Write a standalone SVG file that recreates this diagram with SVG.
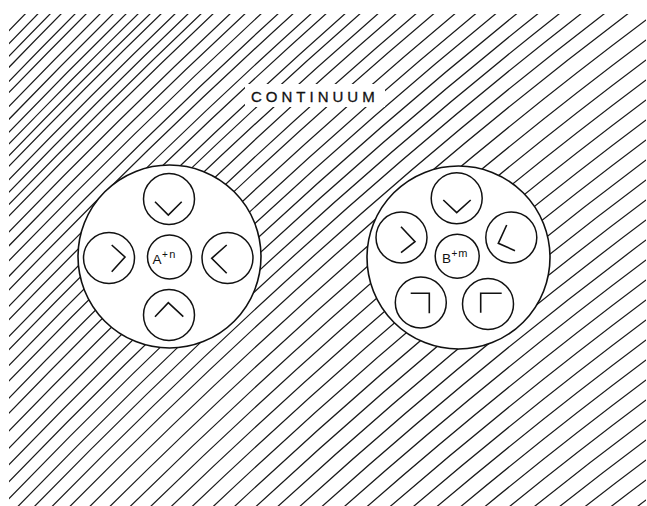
<svg xmlns="http://www.w3.org/2000/svg" width="647" height="506" viewBox="0 0 647 506">
<style>
.hl{fill:none;stroke:#1a1a1a;stroke-width:1.25}
.big{fill:#fff;stroke:#111;stroke-width:1.6}
.sm{fill:#fff;stroke:#111;stroke-width:1.5}
.sym{fill:none;stroke:#111;stroke-width:1.6;stroke-linejoin:miter}
.t{font-family:"Liberation Sans","DejaVu Sans",sans-serif;fill:#111}
</style>
<defs>
<clipPath id="area"><rect x="9" y="14" width="637" height="492"/></clipPath>
<path id="h" d="M0,0 Q325,-338 650,-580.9"/>
</defs>
<rect width="647" height="506" fill="#fff"/>
<g id="hatch" class="hl" clip-path="url(#area)">
<use href="#h" y="40"/><use href="#h" y="53"/><use href="#h" y="65.5"/><use href="#h" y="76.6"/><use href="#h" y="90.7"/><use href="#h" y="101.8"/><use href="#h" y="115.7"/><use href="#h" y="128.6"/><use href="#h" y="141.4"/><use href="#h" y="153.2"/><use href="#h" y="164.9"/><use href="#h" y="175.5"/><use href="#h" y="189"/><use href="#h" y="201.5"/><use href="#h" y="213.8"/><use href="#h" y="225.2"/><use href="#h" y="241.2"/><use href="#h" y="255.1"/><use href="#h" y="270"/><use href="#h" y="285.6"/><use href="#h" y="299.2"/><use href="#h" y="315.5"/><use href="#h" y="328.9"/><use href="#h" y="345.8"/><use href="#h" y="359"/><use href="#h" y="374.7"/><use href="#h" y="390.3"/><use href="#h" y="407.4"/><use href="#h" y="422.5"/><use href="#h" y="440.3"/><use href="#h" y="457.5"/><use href="#h" y="474"/><use href="#h" y="491"/><use href="#h" y="508"/><use href="#h" y="525"/><use href="#h" y="542"/><use href="#h" y="560"/><use href="#h" y="578"/><use href="#h" y="598"/><use href="#h" y="618"/><use href="#h" y="638"/><use href="#h" y="658"/><use href="#h" y="678"/><use href="#h" y="698"/><use href="#h" y="718"/><use href="#h" y="738"/><use href="#h" y="758"/><use href="#h" y="778"/><use href="#h" y="798"/><use href="#h" y="818"/><use href="#h" y="838"/><use href="#h" y="858"/><use href="#h" y="878"/><use href="#h" y="898"/><use href="#h" y="918"/><use href="#h" y="938"/><use href="#h" y="958"/><use href="#h" y="978"/><use href="#h" y="998"/><use href="#h" y="1018"/><use href="#h" y="1038"/><use href="#h" y="1058"/><use href="#h" y="1078"/><use href="#h" y="1098"/>
</g>
<g id="continuum">
<rect x="245" y="84" width="140" height="23" fill="#fff"/>
<text class="t" x="251" y="102" font-size="15" letter-spacing="4" stroke="#111" stroke-width="0.3">CONTINUUM</text>
</g>
<g id="node-A">
<circle class="big" cx="169.5" cy="256.5" r="91.5"/>
<g id="A-top"><circle class="sm" cx="169" cy="199" r="25.5"/><path class="sym" d="M155,201.7 L168.3,215 L181.7,201.7"/></g>
<g id="A-left"><circle class="sm" cx="109" cy="258" r="25.5"/><path class="sym" d="M111.7,245 L125,257 L111.7,271.7"/></g>
<g id="A-right"><circle class="sm" cx="227.5" cy="258" r="25.5"/><path class="sym" d="M226.7,245 L211.7,258.3 L226.7,273.3"/></g>
<g id="A-bottom"><circle class="sm" cx="169" cy="315" r="25.5"/><path class="sym" d="M155,316.7 L168.3,302.7 L183.3,316.7"/></g>
<g id="A-center"><circle class="sm" cx="169.5" cy="257" r="22"/><text class="t" x="152.5" y="263.5" font-size="13.5">A<tspan font-size="10" dx="0.5" dy="-6">+</tspan><tspan font-size="11" dx="1.5">n</tspan></text></g>
</g>
<g id="node-B">
<circle class="big" cx="458.5" cy="257.5" r="91.5"/>
<g id="B-top"><circle class="sm" cx="456.7" cy="198.3" r="25.5"/><path class="sym" d="M443.3,200 L456.7,212.7 L470.7,200"/></g>
<g id="B-left"><circle class="sm" cx="401.5" cy="237.5" r="25.5"/><path class="sym" d="M401,226.7 L415,241.7 L401,252.7"/></g>
<g id="B-right"><circle class="sm" cx="511.3" cy="237.5" r="25.5"/><path class="sym" d="M506.7,225 L498.3,243.3 L515,250.7"/></g>
<g id="B-bottom-left"><circle class="sm" cx="420.8" cy="302.5" r="25.5"/><path class="sym" d="M410.7,293.3 L429.3,293.3 L429.3,313.3"/></g>
<g id="B-bottom-right"><circle class="sm" cx="488" cy="304" r="25.5"/><path class="sym" d="M480.7,312.7 L480.7,293.3 L501.7,293.3"/></g>
<g id="B-center"><circle class="sm" cx="457.2" cy="256.2" r="22"/><text class="t" x="442" y="263" font-size="13.5">B<tspan font-size="10" dx="0.5" dy="-6">+</tspan><tspan font-size="11" dx="1">m</tspan></text></g>
</g>
</svg>
